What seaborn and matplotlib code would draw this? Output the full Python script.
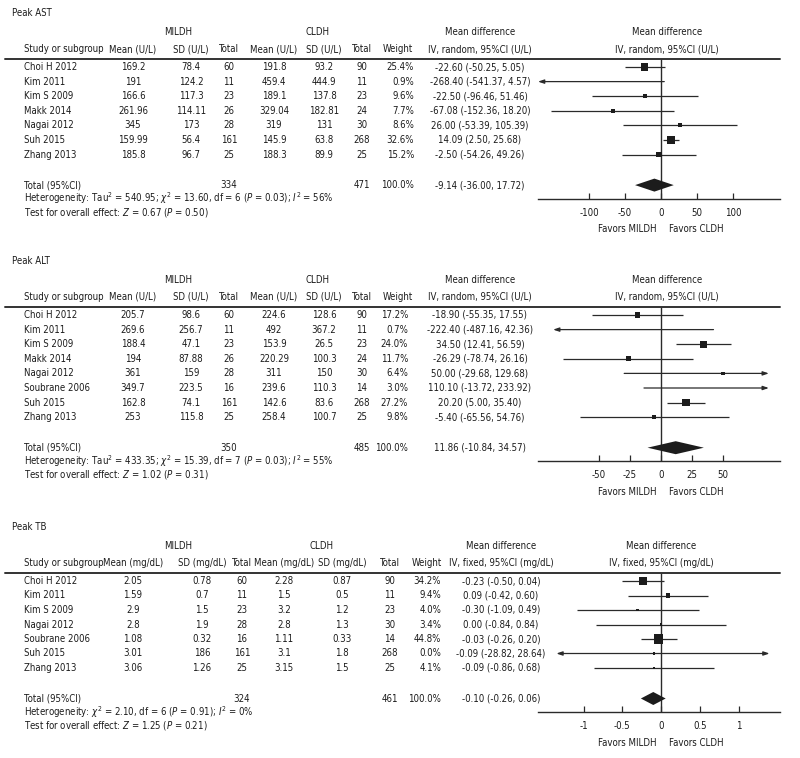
import numpy as np
import matplotlib as mpl
from matplotlib import pyplot as plt
from matplotlib import font_manager as fm
import seaborn as sns

sns.set_theme(style="white")

# Tahoma-like look: condensed DejaVu if it is there, plain DejaVu otherwise
cond = fm.findfont(fm.FontProperties(family="DejaVu Sans", stretch="condensed"))
if "Condensed" in cond:
    FS, STRETCH = 6.9, "condensed"
else:
    FS, STRETCH = 6.4, "normal"

plt.rcParams.update({
    "font.family": ["DejaVu Sans"],
    "font.stretch": STRETCH,
    "font.size": FS,
    "mathtext.fontset": "dejavusans",
    "axes.unicode_minus": False,
})

# ---------------- data ----------------
# Peak AST
ast_study = ["Choi H 2012", "Kim 2011", "Kim S 2009", "Makk 2014", "Nagai 2012", "Suh 2015", "Zhang 2013"]
ast_m1 = [169.2, 191, 166.6, 261.96, 345, 159.99, 185.8]
ast_s1 = [78.4, 124.2, 117.3, 114.11, 173, 56.4, 96.7]
ast_n1 = [60, 11, 23, 26, 28, 161, 25]
ast_m2 = [191.8, 459.4, 189.1, 329.04, 319, 145.9, 188.3]
ast_s2 = [93.2, 444.9, 137.8, 182.81, 131, 63.8, 89.9]
ast_n2 = [90, 11, 23, 24, 30, 268, 25]
ast_wt = [25.4, 0.9, 9.6, 7.7, 8.6, 32.6, 15.2]
ast_md = [-22.60, -268.40, -22.50, -67.08, 26.00, 14.09, -2.50]
ast_lo = [-50.25, -541.37, -96.46, -152.36, -53.39, 2.50, -54.26]
ast_hi = [5.05, 4.57, 51.46, 18.20, 105.39, 25.68, 49.26]
ast_total = [334, 471, -9.14, -36.00, 17.72]
ast_het = "Heterogeneity: Tau$^2$ = 540.95; $\\chi^2$ = 13.60, df = 6 ($P$ = 0.03); $I^2$ = 56%"
ast_test = "Test for overall effect: $Z$ = 0.67 ($P$ = 0.50)"

# Peak ALT
alt_study = ["Choi H 2012", "Kim 2011", "Kim S 2009", "Makk 2014", "Nagai 2012", "Soubrane 2006", "Suh 2015", "Zhang 2013"]
alt_m1 = [205.7, 269.6, 188.4, 194, 361, 349.7, 162.8, 253]
alt_s1 = [98.6, 256.7, 47.1, 87.88, 159, 223.5, 74.1, 115.8]
alt_n1 = [60, 11, 23, 26, 28, 16, 161, 25]
alt_m2 = [224.6, 492, 153.9, 220.29, 311, 239.6, 142.6, 258.4]
alt_s2 = [128.6, 367.2, 26.5, 100.3, 150, 110.3, 83.6, 100.7]
alt_n2 = [90, 11, 23, 24, 30, 14, 268, 25]
alt_wt = [17.2, 0.7, 24.0, 11.7, 6.4, 3.0, 27.2, 9.8]
alt_md = [-18.90, -222.40, 34.50, -26.29, 50.00, 110.10, 20.20, -5.40]
alt_lo = [-55.35, -487.16, 12.41, -78.74, -29.68, -13.72, 5.00, -65.56]
alt_hi = [17.55, 42.36, 56.59, 26.16, 129.68, 233.92, 35.40, 54.76]
alt_total = [350, 485, 11.86, -10.84, 34.57]
alt_het = "Heterogeneity: Tau$^2$ = 433.35; $\\chi^2$ = 15.39, df = 7 ($P$ = 0.03); $I^2$ = 55%"
alt_test = "Test for overall effect: $Z$ = 1.02 ($P$ = 0.31)"

# Peak TB
tb_study = ["Choi H 2012", "Kim 2011", "Kim S 2009", "Nagai 2012", "Soubrane 2006", "Suh 2015", "Zhang 2013"]
tb_m1 = [2.05, 1.59, 2.9, 2.8, 1.08, 3.01, 3.06]
tb_s1 = [0.78, 0.7, 1.5, 1.9, 0.32, 186, 1.26]
tb_n1 = [60, 11, 23, 28, 16, 161, 25]
tb_m2 = [2.28, 1.5, 3.2, 2.8, 1.11, 3.1, 3.15]
tb_s2 = [0.87, 0.5, 1.2, 1.3, 0.33, 1.8, 1.5]
tb_n2 = [90, 11, 23, 30, 14, 268, 25]
tb_wt = [34.2, 9.4, 4.0, 3.4, 44.8, 0.0, 4.1]
tb_md = [-0.23, 0.09, -0.30, 0.00, -0.03, -0.09, -0.09]
tb_lo = [-0.50, -0.42, -1.09, -0.84, -0.26, -28.82, -0.86]
tb_hi = [0.04, 0.60, 0.49, 0.84, 0.20, 28.64, 0.68]
tb_total = [324, 461, -0.10, -0.26, 0.06]
tb_het = "Heterogeneity: $\\chi^2$ = 2.10, df = 6 ($P$ = 0.91); $I^2$ = 0%"
tb_test = "Test for overall effect: $Z$ = 1.25 ($P$ = 0.21)"

# ---------------- layout ----------------
W, H = 800, 758
INK = "#1c1c1c"
LINE = "#2a2a2a"

fig = plt.figure(figsize=(W / 100, H / 100), dpi=100)


def put(x, y, s, ha="left"):
    fig.text(x / W, 1 - y / H, s, ha=ha, va="center", color=INK, fontsize=FS)


def rule(x0, x1, y, lw=1.4):
    fig.add_artist(mpl.lines.Line2D([x0 / W, x1 / W], [1 - y / H, 1 - y / H],
                                    color="#333333", lw=lw))


def panel(top, title, unit, model, study, m1, s1, n1, m2, s2, n2, wt, md, lo, hi,
          total, het, test, cols, step, xlim, clip, ticks, tick_lbls):
    line_y = top + 44
    rows = top + 52 + step * np.arange(len(study))
    tot_y = rows[-1] + 30.5
    het_y = tot_y + 13.5
    test_y = het_y + 13.5
    fav_y = het_y + 30.5

    put(12, top - 2, title)
    put(cols["g1"], top + 17, "MILDH", "center")
    put(cols["g2"], top + 17, "CLDH", "center")
    put(cols["md"], top + 17, "Mean difference", "center")
    put(cols["fp"], top + 17, "Mean difference", "center")

    hy = top + 34
    put(24, hy, "Study or subgroup")
    put(cols["m1"], hy, f"Mean ({unit})", "center")
    put(cols["s1"], hy, f"SD ({unit})", "center")
    put(cols["n1"], hy, "Total", "center")
    put(cols["m2"], hy, f"Mean ({unit})", "center")
    put(cols["s2"], hy, f"SD ({unit})", "center")
    put(cols["n2"], hy, "Total", "center")
    put(cols["wh"], hy, "Weight", "center")
    put(cols["md"], hy, f"IV, {model}, 95%CI ({unit})", "center")
    put(cols["fp"], hy, f"IV, {model}, 95%CI ({unit})", "center")
    rule(5, 780, line_y)

    for i, y in enumerate(rows):
        put(24, y, study[i])
        put(cols["m1"], y, f"{m1[i]:g}", "center")
        put(cols["s1"], y, f"{s1[i]:g}", "center")
        put(cols["n1"], y, f"{n1[i]}", "center")
        put(cols["m2"], y, f"{m2[i]:g}", "center")
        put(cols["s2"], y, f"{s2[i]:g}", "center")
        put(cols["n2"], y, f"{n2[i]}", "center")
        put(cols["w"], y, f"{wt[i]:.1f}%", "right")
        put(cols["md"], y, f"{md[i]:.2f} ({lo[i]:.2f}, {hi[i]:.2f})", "center")

    put(24, tot_y, "Total (95%CI)")
    put(cols["n1"], tot_y, f"{total[0]}", "center")
    put(cols["n2"], tot_y, f"{total[1]}", "center")
    put(cols["w"], tot_y, "100.0%", "right")
    put(cols["md"], tot_y, f"{total[2]:.2f} ({total[3]:.2f}, {total[4]:.2f})", "center")
    put(24, het_y, het)
    put(24, test_y, test)
    put(656, fav_y, "Favors MILDH", "right")
    put(669, fav_y, "Favors CLDH")

    # forest plot axes: x in data units, y in pixel rows
    ax = fig.add_axes([538 / W, 1 - het_y / H, 242 / W, (het_y - line_y) / H])
    ax.axvline(0, color=LINE, lw=1.0, zorder=1)
    arrow = dict(color=LINE, lw=0.9, shrinkA=0, shrinkB=0)
    for i, y in enumerate(rows):
        a, b = lo[i], hi[i]
        if a < clip[0] and b > clip[1]:
            ax.annotate("", xy=(clip[1], y), xytext=(clip[0], y),
                        arrowprops=dict(arrowstyle="<|-|>,head_length=0.5,head_width=0.17", **arrow))
        elif a < clip[0]:
            ax.annotate("", xy=(clip[0], y), xytext=(b, y),
                        arrowprops=dict(arrowstyle="-|>,head_length=0.5,head_width=0.17", **arrow))
        elif b > clip[1]:
            ax.annotate("", xy=(clip[1], y), xytext=(a, y),
                        arrowprops=dict(arrowstyle="-|>,head_length=0.5,head_width=0.17", **arrow))
        else:
            ax.plot([a, b], [y, y], color=LINE, lw=0.9, solid_capstyle="butt")

    side = np.maximum(1.4 * np.sqrt(np.array(wt)), 2.4)
    sns.scatterplot(x=np.array(md), y=rows, marker="s", s=(side * 0.72) ** 2,
                    color=INK, linewidth=0, ax=ax, legend=False, zorder=3)

    dh = 6.5
    ax.fill([total[3], total[2], total[4], total[2]],
            [tot_y, tot_y - dh, tot_y, tot_y + dh], color=INK, lw=0, zorder=3)

    ax.set_xlim(*xlim)
    ax.set_ylim(het_y, line_y)
    ax.set_xticks(ticks)
    ax.set_xticklabels(tick_lbls)
    ax.set_yticks([])
    ax.set(xlabel="", ylabel="")
    ax.patch.set_alpha(0)
    for s in ["top", "left", "right"]:
        ax.spines[s].set_visible(False)
    ax.spines["bottom"].set_color(LINE)
    ax.spines["bottom"].set_linewidth(1.0)
    ax.tick_params(axis="x", direction="in", length=4, width=0.9, pad=6.5,
                   colors=LINE, labelcolor=INK, labelsize=FS, bottom=True)


cols_ul = dict(g1=178, g2=318, m1=133, s1=191, n1=229, m2=274, s2=324, n2=362,
               wh=398, w=414, md=480, fp=667)
cols_ul2 = dict(cols_ul, w=408)
cols_mg = dict(g1=178, g2=322, m1=133, s1=202, n1=242, m2=284, s2=342, n2=390,
               wh=427, w=441, md=501, fp=661)

panel(15, "Peak AST", "U/L", "random", ast_study, ast_m1, ast_s1, ast_n1, ast_m2, ast_s2,
      ast_n2, ast_wt, ast_md, ast_lo, ast_hi, ast_total, ast_het, ast_test, cols_ul, 14.6,
      (-170.8, 165.3), (-170.8, 165.3), [-100, -50, 0, 50, 100],
      ["-100", "-50", "0", "50", "100"])
panel(263, "Peak ALT", "U/L", "random", alt_study, alt_m1, alt_s1, alt_n1, alt_m2, alt_s2,
      alt_n2, alt_wt, alt_md, alt_lo, alt_hi, alt_total, alt_het, alt_test, cols_ul2, 14.6,
      (-99.2, 96.0), (-87, 87), [-50, -25, 0, 25, 50],
      ["-50", "-25", "0", "25", "50"])
panel(529, "Peak TB", "mg/dL", "fixed", tb_study, tb_m1, tb_s1, tb_n1, tb_m2, tb_s2,
      tb_n2, tb_wt, tb_md, tb_lo, tb_hi, tb_total, tb_het, tb_test, cols_mg, 14.5,
      (-1.587, 1.535), (-1.35, 1.4), [-1, -0.5, 0, 0.5, 1],
      ["-1", "-0.5", "0", "0.5", "1"])

fig.savefig("out.png", dpi=100)
